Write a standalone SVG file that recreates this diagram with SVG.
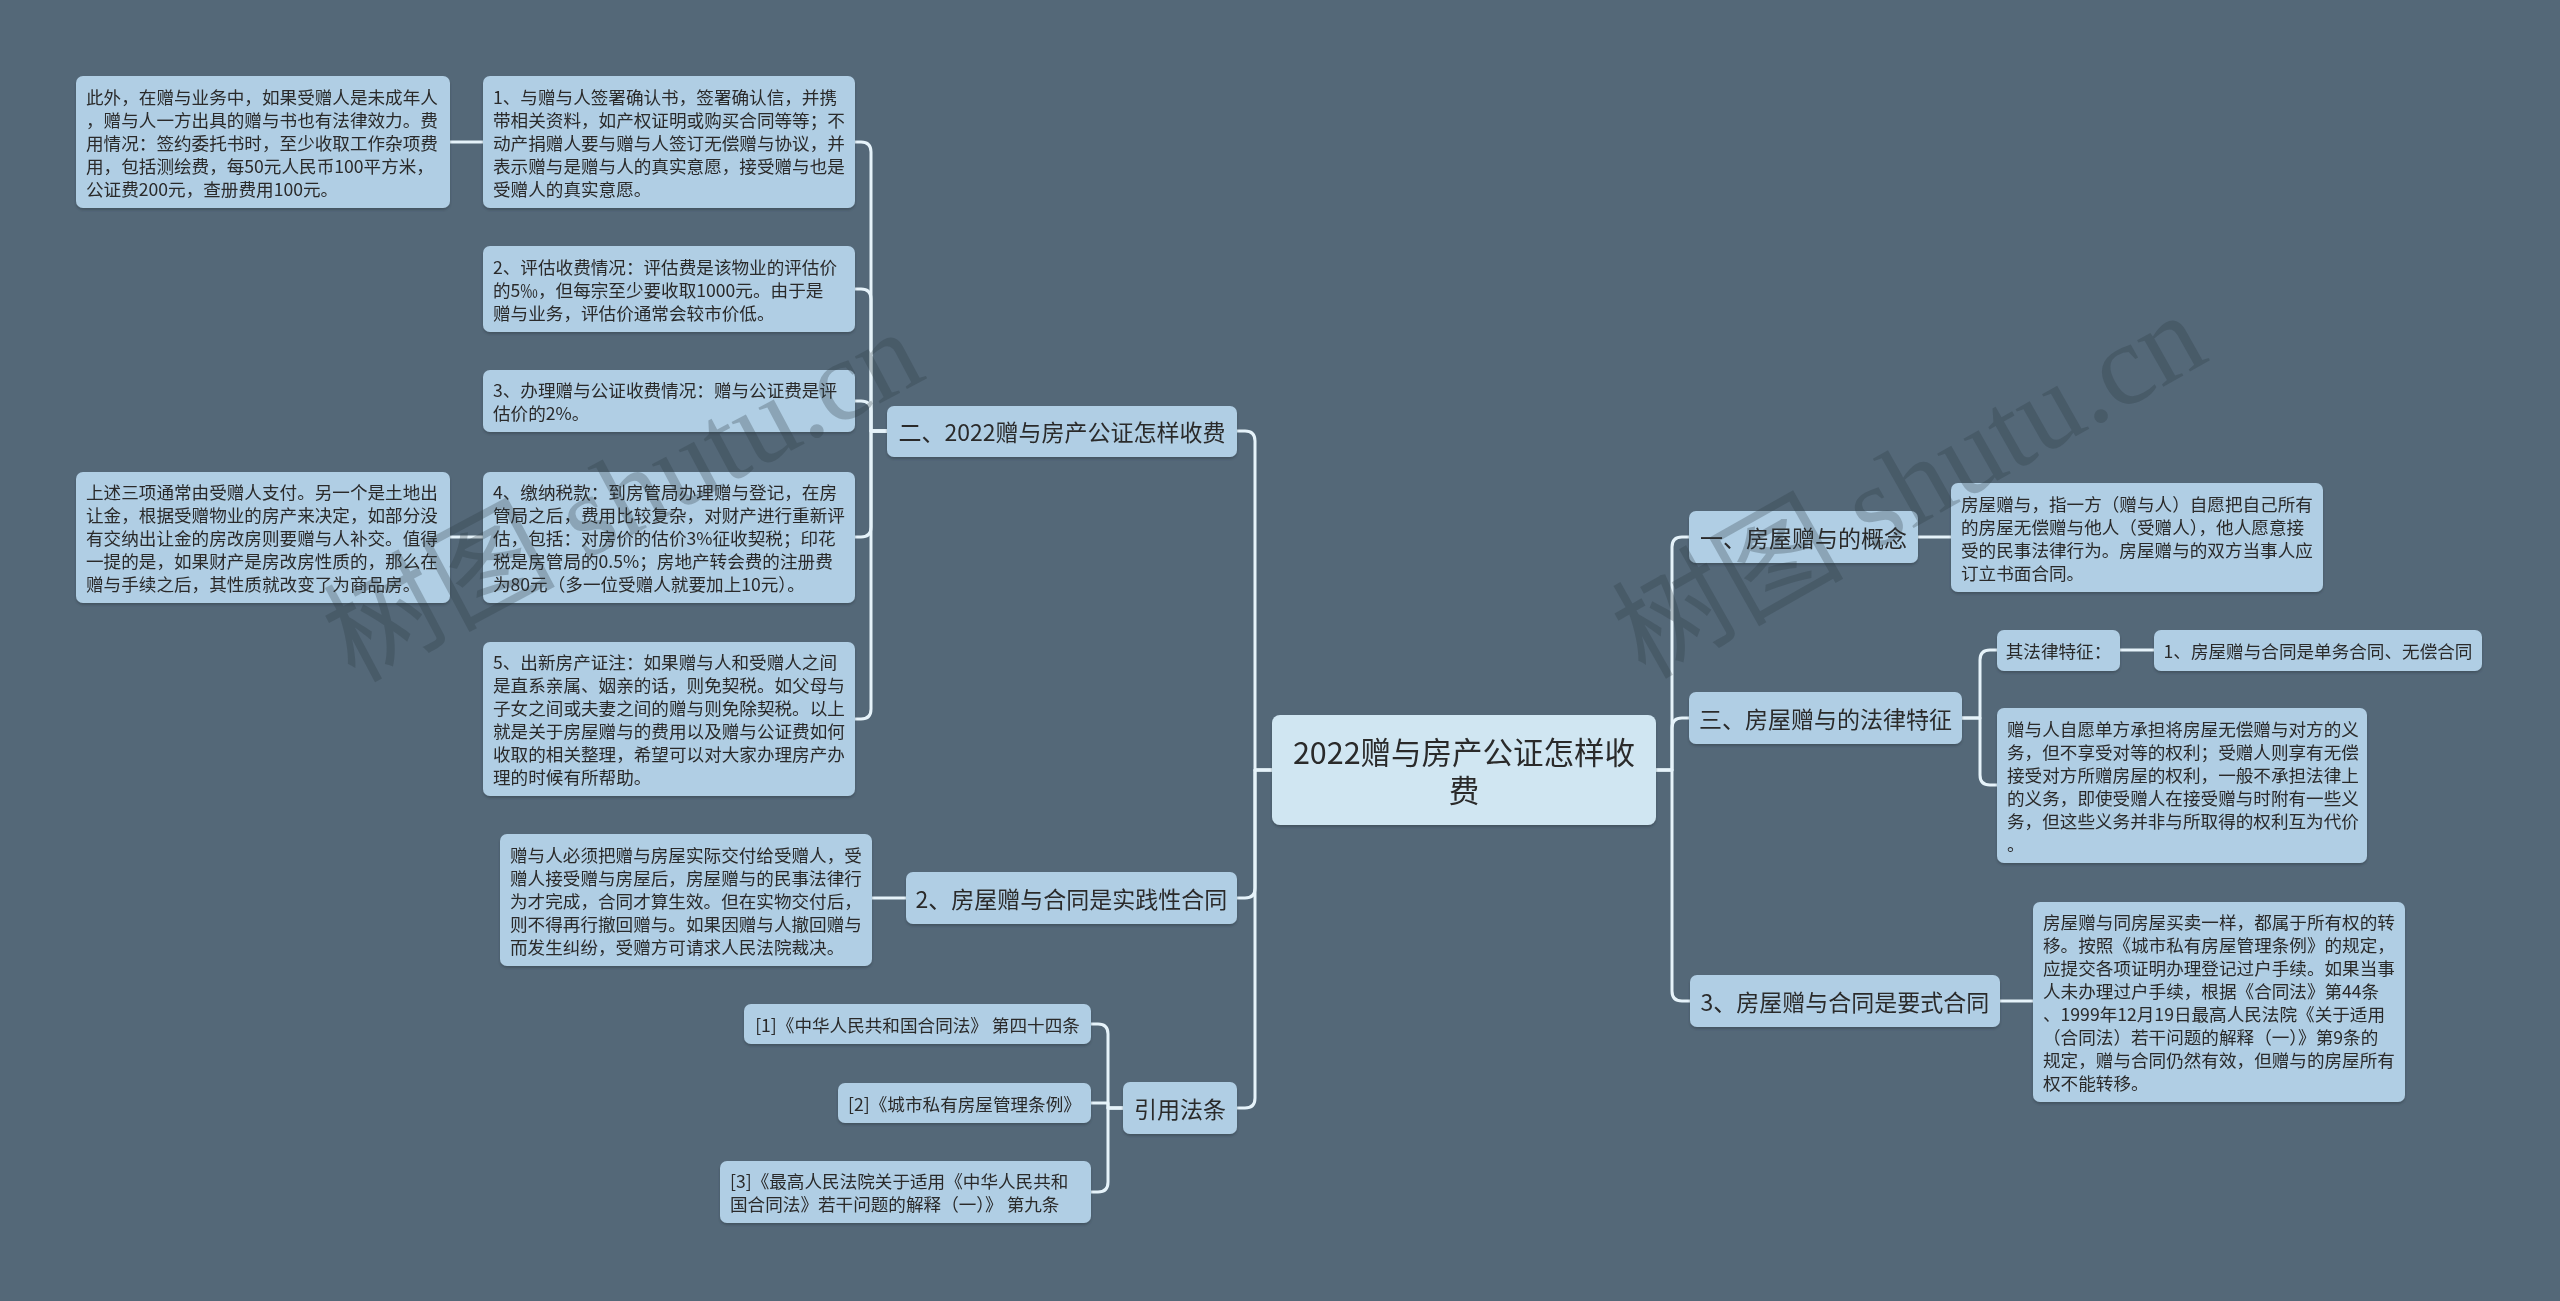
<svg xmlns="http://www.w3.org/2000/svg" width="2560" height="1301" viewBox="0 0 2560 1301">
<style>
.bg{fill:#546878}
.box{fill:#b0cee4}
.root{fill:#d0e6f2}
.t{font-family:"Noto Sans CJK SC","Noto Sans",sans-serif;fill:#2a2a2a;dominant-baseline:central}
.s{font-size:17.6px}
.m{font-size:23px}
.r{font-size:30.5px}
.c{text-anchor:middle}
.ln{fill:none;stroke:#e6f3fa;stroke-width:3;stroke-linejoin:round;stroke-linecap:round}
.wm{font-family:"Liberation Serif","Noto Sans CJK SC",serif;font-size:116px;fill:#2c3842;fill-opacity:0.28}
</style>
<defs>
<filter id="sh" x="-5%" y="-5%" width="110%" height="120%">
<feDropShadow dx="0" dy="2" stdDeviation="1" flood-color="#2a3a46" flood-opacity="0.45"/>
</filter>
</defs>
<rect class="bg" x="0" y="0" width="2560" height="1301"/>

<g id="connectors">
<path class="ln" d="M1656,770 H1672 V547 Q1672,537 1682,537 H1689"/>
<path class="ln" d="M1656,770 H1672 V728 Q1672,718 1682,718 H1689"/>
<path class="ln" d="M1656,770 H1672 V991 Q1672,1001 1682,1001 H1690"/>
<path class="ln" d="M1272,770 H1255 V441 Q1255,431 1245,431 H1237"/>
<path class="ln" d="M1272,770 H1255 V888 Q1255,898 1245,898 H1237"/>
<path class="ln" d="M1272,770 H1255 V1098 Q1255,1108 1245,1108 H1237"/>
<path class="ln" d="M887,431 H871 V152 Q871,142 861,142 H855"/>
<path class="ln" d="M887,431 H871 V299 Q871,289 861,289 H855"/>
<path class="ln" d="M887,431 H871 V411 Q871,401 861,401 H855"/>
<path class="ln" d="M887,431 H871 V527 Q871,537 861,537 H855"/>
<path class="ln" d="M887,431 H871 V709 Q871,719 861,719 H855"/>
<path class="ln" d="M483,142 H450"/>
<path class="ln" d="M483,537 H450"/>
<path class="ln" d="M906,898 H872"/>
<path class="ln" d="M1123,1108 H1108 V1034 Q1108,1024 1098,1024 H1091"/>
<path class="ln" d="M1123,1108 H1108 V1103 H1091"/>
<path class="ln" d="M1123,1108 H1108 V1182 Q1108,1192 1098,1192 H1091"/>
<path class="ln" d="M1918,537 H1951"/>
<path class="ln" d="M1962,718 H1980 V660 Q1980,650 1990,650 H1997"/>
<path class="ln" d="M1962,718 H1980 V775 Q1980,785 1990,785 H1997"/>
<path class="ln" d="M2120,650 H2154"/>
<path class="ln" d="M2000,1001 H2033"/>
</g>

<g id="root" filter="url(#sh)">
<rect class="root" x="1272" y="715" width="384" height="110" rx="8"/>
<text class="t r c" x="1464" y="751">2022赠与房产公证怎样收</text>
<text class="t r c" x="1464" y="789">费</text>
</g>

<g id="n-er" filter="url(#sh)">
<rect class="box" x="887" y="406" width="350" height="51" rx="7"/>
<text class="t m c" x="1062" y="431">二、2022赠与房产公证怎样收费</text>
</g>

<g id="n-b1" filter="url(#sh)">
<rect class="box" x="483" y="76" width="372" height="132" rx="7"/>
<text class="t s" x="493" y="96">1、与赠与人签署确认书，签署确认信，并携</text>
<text class="t s" x="493" y="119">带相关资料，如产权证明或购买合同等等；不</text>
<text class="t s" x="493" y="142">动产捐赠人要与赠与人签订无偿赠与协议，并</text>
<text class="t s" x="493" y="165">表示赠与是赠与人的真实意愿，接受赠与也是</text>
<text class="t s" x="493" y="188">受赠人的真实意愿。</text>
</g>

<g id="n-a" filter="url(#sh)">
<rect class="box" x="76" y="76" width="374" height="132" rx="7"/>
<text class="t s" x="86" y="96">此外，在赠与业务中，如果受赠人是未成年人</text>
<text class="t s" x="86" y="119">，赠与人一方出具的赠与书也有法律效力。费</text>
<text class="t s" x="86" y="142">用情况：签约委托书时，至少收取工作杂项费</text>
<text class="t s" x="86" y="165">用，包括测绘费，每50元人民币100平方米，</text>
<text class="t s" x="86" y="188">公证费200元，查册费用100元。</text>
</g>

<g id="n-b2" filter="url(#sh)">
<rect class="box" x="483" y="246" width="372" height="86" rx="7"/>
<text class="t s" x="493" y="266">2、评估收费情况：评估费是该物业的评估价</text>
<text class="t s" x="493" y="289">的5‰，但每宗至少要收取1000元。由于是</text>
<text class="t s" x="493" y="312">赠与业务，评估价通常会较市价低。</text>
</g>

<g id="n-b3" filter="url(#sh)">
<rect class="box" x="483" y="370" width="372" height="62" rx="7"/>
<text class="t s" x="493" y="389.5">3、办理赠与公证收费情况：赠与公证费是评</text>
<text class="t s" x="493" y="412.5">估价的2%。</text>
</g>

<g id="n-b4" filter="url(#sh)">
<rect class="box" x="483" y="472" width="372" height="131" rx="7"/>
<text class="t s" x="493" y="491.5">4、缴纳税款：到房管局办理赠与登记，在房</text>
<text class="t s" x="493" y="514.5">管局之后，费用比较复杂，对财产进行重新评</text>
<text class="t s" x="493" y="537.5">估，包括：对房价的估价3%征收契税；印花</text>
<text class="t s" x="493" y="560.5">税是房管局的0.5%；房地产转会费的注册费</text>
<text class="t s" x="493" y="583.5">为80元（多一位受赠人就要加上10元）。</text>
</g>

<g id="n-c" filter="url(#sh)">
<rect class="box" x="76" y="472" width="374" height="131" rx="7"/>
<text class="t s" x="86" y="491.5">上述三项通常由受赠人支付。另一个是土地出</text>
<text class="t s" x="86" y="514.5">让金，根据受赠物业的房产来决定，如部分没</text>
<text class="t s" x="86" y="537.5">有交纳出让金的房改房则要赠与人补交。值得</text>
<text class="t s" x="86" y="560.5">一提的是，如果财产是房改房性质的，那么在</text>
<text class="t s" x="86" y="583.5">赠与手续之后，其性质就改变了为商品房。</text>
</g>

<g id="n-b5" filter="url(#sh)">
<rect class="box" x="483" y="642" width="372" height="154" rx="7"/>
<text class="t s" x="493" y="661.5">5、出新房产证注：如果赠与人和受赠人之间</text>
<text class="t s" x="493" y="684.5">是直系亲属、姻亲的话，则免契税。如父母与</text>
<text class="t s" x="493" y="707.5">子女之间或夫妻之间的赠与则免除契税。以上</text>
<text class="t s" x="493" y="730.5">就是关于房屋赠与的费用以及赠与公证费如何</text>
<text class="t s" x="493" y="753.5">收取的相关整理，希望可以对大家办理房产办</text>
<text class="t s" x="493" y="776.5">理的时候有所帮助。</text>
</g>

<g id="n-2" filter="url(#sh)">
<rect class="box" x="906" y="872" width="331" height="52" rx="7"/>
<text class="t m c" x="1071.5" y="898">2、房屋赠与合同是实践性合同</text>
</g>

<g id="n-d" filter="url(#sh)">
<rect class="box" x="500" y="834" width="372" height="132" rx="7"/>
<text class="t s" x="510" y="854">赠与人必须把赠与房屋实际交付给受赠人，受</text>
<text class="t s" x="510" y="877">赠人接受赠与房屋后，房屋赠与的民事法律行</text>
<text class="t s" x="510" y="900">为才完成，合同才算生效。但在实物交付后，</text>
<text class="t s" x="510" y="923">则不得再行撤回赠与。如果因赠与人撤回赠与</text>
<text class="t s" x="510" y="946">而发生纠纷，受赠方可请求人民法院裁决。</text>
</g>

<g id="n-law" filter="url(#sh)">
<rect class="box" x="1123" y="1082" width="114" height="52" rx="7"/>
<text class="t m c" x="1180" y="1108">引用法条</text>
</g>

<g id="n-l1" filter="url(#sh)">
<rect class="box" x="744" y="1004" width="347" height="40" rx="7"/>
<text class="t s c" x="917.5" y="1024">[1]《中华人民共和国合同法》 第四十四条</text>
</g>

<g id="n-l2" filter="url(#sh)">
<rect class="box" x="838" y="1083" width="253" height="40" rx="7"/>
<text class="t s c" x="964.5" y="1103">[2]《城市私有房屋管理条例》</text>
</g>

<g id="n-l3" filter="url(#sh)">
<rect class="box" x="720" y="1161" width="371" height="62" rx="7"/>
<text class="t s" x="730" y="1180.5">[3]《最高人民法院关于适用《中华人民共和</text>
<text class="t s" x="730" y="1203.5">国合同法》若干问题的解释（一）》 第九条</text>
</g>

<g id="n-yi" filter="url(#sh)">
<rect class="box" x="1689" y="511" width="229" height="52" rx="7"/>
<text class="t m c" x="1803.5" y="537">一、房屋赠与的概念</text>
</g>

<g id="n-e" filter="url(#sh)">
<rect class="box" x="1951" y="483" width="372" height="109" rx="7"/>
<text class="t s" x="1961" y="503">房屋赠与，指一方（赠与人）自愿把自己所有</text>
<text class="t s" x="1961" y="526">的房屋无偿赠与他人（受赠人），他人愿意接</text>
<text class="t s" x="1961" y="549">受的民事法律行为。房屋赠与的双方当事人应</text>
<text class="t s" x="1961" y="572">订立书面合同。</text>
</g>

<g id="n-san" filter="url(#sh)">
<rect class="box" x="1689" y="692" width="273" height="52" rx="7"/>
<text class="t m c" x="1825.5" y="718">三、房屋赠与的法律特征</text>
</g>

<g id="n-f" filter="url(#sh)">
<rect class="box" x="1997" y="630" width="123" height="41" rx="7"/>
<text class="t s c" x="2058.5" y="650.5">其法律特征：</text>
</g>

<g id="n-g" filter="url(#sh)">
<rect class="box" x="2154" y="630" width="328" height="41" rx="7"/>
<text class="t s c" x="2318" y="650.5">1、房屋赠与合同是单务合同、无偿合同</text>
</g>

<g id="n-h" filter="url(#sh)">
<rect class="box" x="1997" y="708" width="370" height="155" rx="7"/>
<text class="t s" x="2007" y="728">赠与人自愿单方承担将房屋无偿赠与对方的义</text>
<text class="t s" x="2007" y="751">务，但不享受对等的权利；受赠人则享有无偿</text>
<text class="t s" x="2007" y="774">接受对方所赠房屋的权利，一般不承担法律上</text>
<text class="t s" x="2007" y="797">的义务，即使受赠人在接受赠与时附有一些义</text>
<text class="t s" x="2007" y="820">务，但这些义务并非与所取得的权利互为代价</text>
<text class="t s" x="2007" y="843">。</text>
</g>

<g id="n-3" filter="url(#sh)">
<rect class="box" x="1690" y="975" width="310" height="52" rx="7"/>
<text class="t m c" x="1845" y="1001">3、房屋赠与合同是要式合同</text>
</g>

<g id="n-i" filter="url(#sh)">
<rect class="box" x="2033" y="902" width="372" height="200" rx="7"/>
<text class="t s" x="2043" y="921.5">房屋赠与同房屋买卖一样，都属于所有权的转</text>
<text class="t s" x="2043" y="944.5">移。按照《城市私有房屋管理条例》的规定，</text>
<text class="t s" x="2043" y="967.5">应提交各项证明办理登记过户手续。如果当事</text>
<text class="t s" x="2043" y="990.5">人未办理过户手续，根据《合同法》第44条</text>
<text class="t s" x="2043" y="1013.5">、1999年12月19日最高人民法院《关于适用</text>
<text class="t s" x="2043" y="1036.5">（合同法）若干问题的解释（一）》第9条的</text>
<text class="t s" x="2043" y="1059.5">规定，赠与合同仍然有效，但赠与的房屋所有</text>
<text class="t s" x="2043" y="1082.5">权不能转移。</text>
</g>

<g id="watermarks">
<text class="wm" x="354" y="683" transform="rotate(-28 354 683)">树图 shutu.cn</text>
<text class="wm" x="1645" y="680" transform="rotate(-29.5 1645 680)">树图 shutu.cn</text>
</g>
</svg>
